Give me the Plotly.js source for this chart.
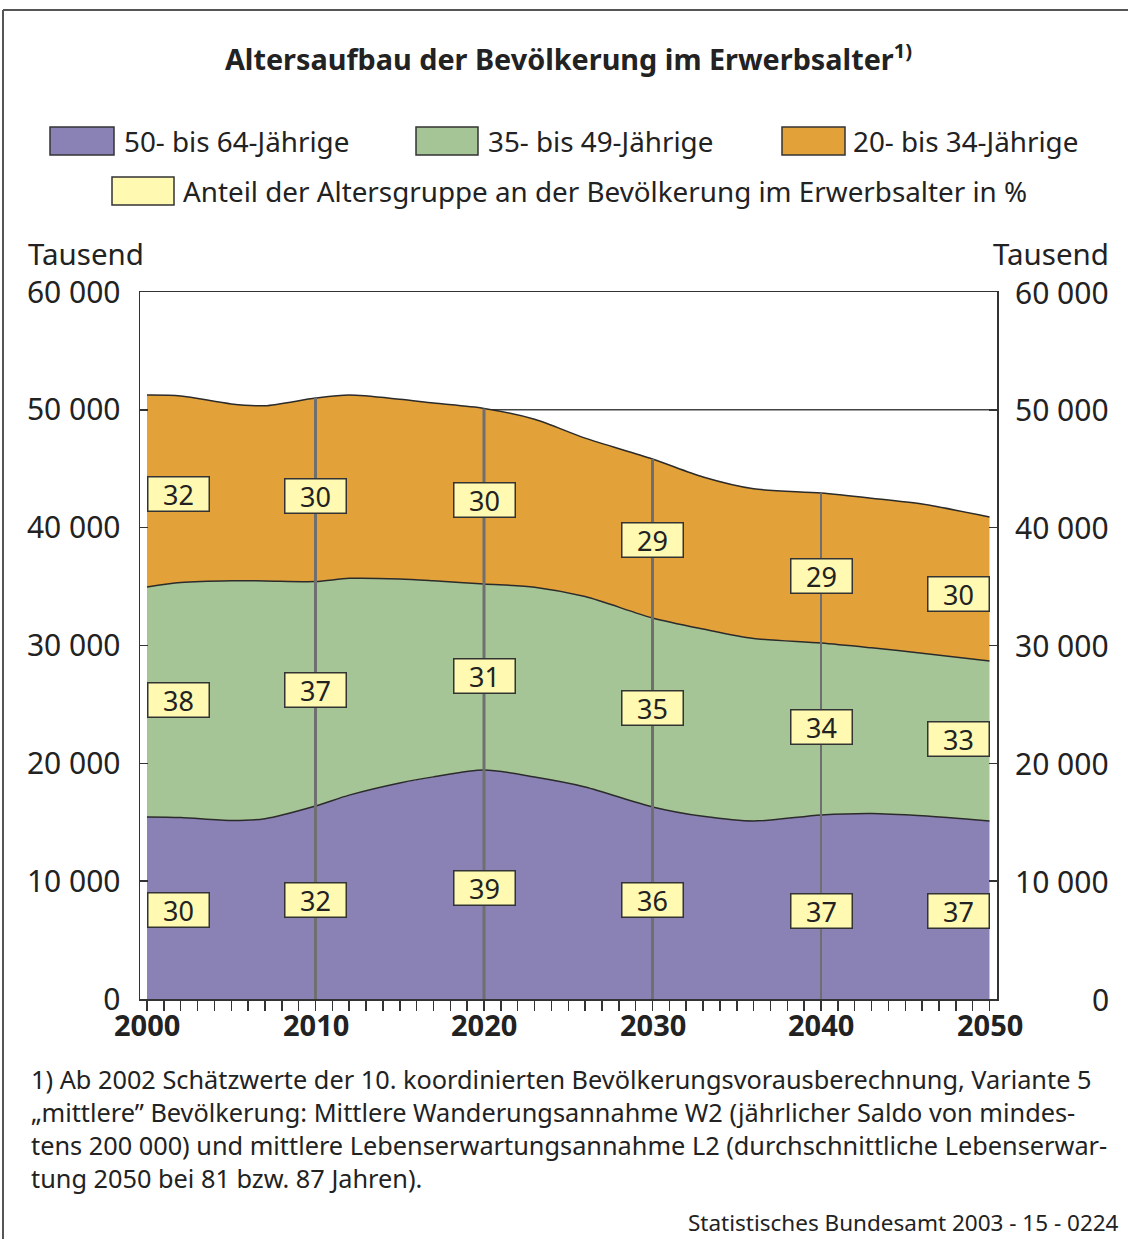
<!DOCTYPE html>
<html>
<head>
<meta charset="utf-8">
<script src="https://cdn.plot.ly/plotly-3.0.1.min.js"></script>
<style>
  html, body { margin: 0; padding: 0; background: #ffffff; }
  #chart { width: 1128px; height: 1239px; }
</style>
</head>
<body>
<div id="chart"></div>
<script>
// ---------------- DATA ----------------
const years = [2000, 2002, 2005, 2007, 2010, 2012, 2015, 2017, 2020, 2023, 2026, 2030, 2033, 2036, 2040, 2043, 2046, 2050];
// Thousands of persons per age group
const age50to64 = [15450, 15400, 15150, 15300, 16380, 17300, 18330, 18850, 19440, 18840, 18000, 16300, 15500, 15100, 15620, 15750, 15550, 15110];
const age35to49 = [19520, 19950, 20350, 20180, 19050, 18400, 17320, 16650, 15780, 16110, 16150, 16040, 15900, 15500, 14590, 14050, 13800, 13580];
const age20to34 = [16280, 15830, 15000, 14870, 15570, 15560, 15250, 15070, 14900, 14250, 13450, 13490, 12900, 12700, 12730, 12700, 12650, 12220];

// Share of the age group in the working-age population (%)
const labelYears = [2000, 2010, 2020, 2030, 2040, 2050];
const pct50to64 = [30, 32, 39, 36, 37, 37];
const pct35to49 = [38, 37, 31, 35, 34, 33];
const pct20to34 = [32, 30, 30, 29, 29, 30];

const seriesNames = ['50- bis 64-Jährige', '35- bis 49-Jährige', '20- bis 34-Jährige'];
const shareLegend = 'Anteil der Altersgruppe an der Bevölkerung im Erwerbsalter in %';
const yTickVals = [0, 10000, 20000, 30000, 40000, 50000, 60000];
const yTickText = ['0', '10 000', '20 000', '30 000', '40 000', '50 000', '60 000'];
const xTickVals = [2000, 2010, 2020, 2030, 2040, 2050];
const gridYears = [2010, 2020, 2030, 2040];

// ---------------- STYLE / LAYOUT CONFIG ----------------
const FONT = 'Noto Sans, DejaVu Sans, sans-serif';
const colPurple = '#8a82b5', colGreen = '#a5c596', colOrange = '#e3a13a', colYellow = '#fff9b1';
const W = 1128, H = 1239;
const M = {l: 140, r: 131, t: 292, b: 240};
const pw = W - M.l - M.r, ph = H - M.t - M.b;
const px2x = px => (px - M.l) / pw;
const py2y = py => (H - M.b - py) / ph;

// label vertical placement (data units) per row
const labelPosOrange = [42860, 42690, 42350, 38950, 35900, 34370];
const labelPosGreen  = [25380, 26230, 27410, 24700, 23080, 22060];
const labelPosPurple = [7550, 8400, 9420, 8400, 7470, 7470];

// ---------------- TRACES ----------------
const common = {type: 'scatter', mode: 'lines', stackgroup: 'one', hoverinfo: 'skip',
  line: {color: '#2b2b2b', width: 1.5, shape: 'spline', smoothing: 0.8}, showlegend: false};
const traces = [
  Object.assign({}, common, {x: years, y: age50to64, name: seriesNames[0], fillcolor: colPurple}),
  Object.assign({}, common, {x: years, y: age35to49, name: seriesNames[1], fillcolor: colGreen}),
  Object.assign({}, common, {x: years, y: age20to34, name: seriesNames[2], fillcolor: colOrange})
];
// vertical decade lines up to the total
gridYears.forEach(yr => {
  const i = years.indexOf(yr);
  const tot = age50to64[i] + age35to49[i] + age20to34[i];
  traces.push({type: 'scatter', mode: 'lines', x: [yr, yr], y: [0, tot], hoverinfo: 'skip', showlegend: false,
    line: {color: '#6f6f6f', width: yr === 2040 ? 2 : 3}});
});

// ---------------- ANNOTATIONS ----------------
const ann = [];
function box(i, pct, yv) {
  const yr = labelYears[i];
  let xanchor = 'center';
  if (i === 0) xanchor = 'left';
  if (i === labelYears.length - 1) xanchor = 'right';
  ann.push({x: yr, y: yv, xref: 'x', yref: 'y', text: String(pct), showarrow: false,
    xanchor: xanchor, yanchor: 'middle', font: {family: FONT, size: 27, color: '#222'},
    bgcolor: colYellow, bordercolor: '#333', borderwidth: 1.5, borderpad: 1, width: 58, height: 31});
}
labelYears.forEach((yr, i) => {
  box(i, pct20to34[i], labelPosOrange[i]);
  box(i, pct35to49[i], labelPosGreen[i]);
  box(i, pct50to64[i], labelPosPurple[i]);
});

// right tick labels (right aligned)
yTickVals.forEach((v, i) => {
  ann.push({x: px2x(1111), y: v, xref: 'paper', yref: 'y', text: yTickText[i], showarrow: false,
    xanchor: 'right', yanchor: 'middle', font: {family: FONT, size: 30, color: '#222'}});
});
// x tick labels
xTickVals.forEach(v => {
  ann.push({x: v, y: py2y(1004), xref: 'x', yref: 'paper', text: String(v), showarrow: false, borderpad: 0,
    xanchor: 'center', yanchor: 'top', font: {family: FONT, size: 29, color: '#222', weight: 'bold'}});
});
// Tausend
ann.push({x: px2x(26), y: py2y(253), xref: 'paper', yref: 'paper', text: 'Tausend', showarrow: false,
  xanchor: 'left', yanchor: 'middle', font: {family: FONT, size: 29.5, color: '#222'}});
ann.push({x: px2x(1111), y: py2y(253), xref: 'paper', yref: 'paper', text: 'Tausend', showarrow: false,
  xanchor: 'right', yanchor: 'middle', font: {family: FONT, size: 29.5, color: '#222'}});

// legend texts
const legTxt = [
  {t: seriesNames[0], x: 122, y: 141},
  {t: seriesNames[1], x: 486, y: 141},
  {t: seriesNames[2], x: 851, y: 141},
  {t: shareLegend, x: 181, y: 191}
];
legTxt.forEach(l => ann.push({x: px2x(l.x), y: py2y(l.y), xref: 'paper', yref: 'paper', text: l.t,
  showarrow: false, xanchor: 'left', yanchor: 'middle', font: {family: FONT, size: 27.8, color: '#222'}}));

// footnote lines
const foot = [
  '1) Ab 2002 Schätzwerte der 10. koordinierten Bevölkerungsvorausberechnung, Variante 5',
  '„mittlere” Bevölkerung: Mittlere Wanderungsannahme W2 (jährlicher Saldo von mindes-',
  'tens 200 000) und mittlere Lebenserwartungsannahme L2 (durchschnittliche Lebenserwar-',
  'tung 2050 bei 81 bzw. 87 Jahren).'
];
foot.forEach((t, i) => ann.push({x: px2x(29), y: py2y(1079 + i * 33), xref: 'paper', yref: 'paper', text: t,
  showarrow: false, xanchor: 'left', yanchor: 'middle', font: {family: FONT, size: 25.3, color: '#222'}}));
ann.push({x: px2x(1120), y: py2y(1238.5), xref: 'paper', yref: 'paper', text: 'Statistisches Bundesamt 2003 - 15 - 0224',
  showarrow: false, xanchor: 'right', yanchor: 'bottom', borderpad: 0, font: {family: FONT, size: 22.5, color: '#222'}});

// ---------------- SHAPES ----------------
const shapes = [];
// 50 000 reference line behind areas
shapes.push({type: 'line', xref: 'paper', yref: 'y', x0: 0, x1: 1, y0: 50000, y1: 50000, layer: 'below',
  line: {color: '#444', width: 1.5}});
// outer frame (top and left)
shapes.push({type: 'line', xref: 'paper', yref: 'paper', x0: px2x(3), x1: px2x(1128), y0: py2y(10), y1: py2y(10),
  line: {color: '#555', width: 2}});
shapes.push({type: 'line', xref: 'paper', yref: 'paper', x0: px2x(3), x1: px2x(3), y0: py2y(10), y1: py2y(1239),
  line: {color: '#555', width: 2}});
// legend swatches
const sw = [
  {c: colPurple, x0: 50, x1: 114, y0: 127, y1: 155},
  {c: colGreen, x0: 416, x1: 478, y0: 127, y1: 155},
  {c: colOrange, x0: 782, x1: 845, y0: 127, y1: 155},
  {c: colYellow, x0: 112, x1: 174, y0: 177, y1: 205}
];
sw.forEach(s => shapes.push({type: 'rect', xref: 'paper', yref: 'paper',
  x0: px2x(s.x0), x1: px2x(s.x1), y0: py2y(s.y0), y1: py2y(s.y1),
  fillcolor: s.c, line: {color: '#333', width: 1.5}}));

// ---------------- LAYOUT ----------------
const layout = {
  width: W, height: H,
  margin: M,
  paper_bgcolor: '#ffffff', plot_bgcolor: '#ffffff',
  showlegend: false,
  hovermode: false,
  title: {text: 'Altersaufbau der Bevölkerung im Erwerbsalter<sup>1)</sup>',
    font: {family: FONT, size: 28.8, color: '#222', weight: 'bold'},
    x: 0.5, xref: 'paper', y: 1 - 60 / H, yref: 'container', yanchor: 'middle'},
  xaxis: {
    range: [2000 - 7 / 16.84, 2050 + 7.5 / 16.84], fixedrange: true,
    tickvals: xTickVals, showticklabels: false,
    ticks: 'outside', ticklen: 10, tickwidth: 1.5, tickcolor: '#333',
    minor: {dtick: 1, tick0: 2000, ticks: 'outside', ticklen: 10, tickwidth: 1.5, tickcolor: '#333', showgrid: false},
    showline: true, linecolor: '#333', linewidth: 1.5, mirror: true,
    showgrid: false, zeroline: false
  },
  yaxis: {
    range: [0, 60000], fixedrange: true,
    tickvals: yTickVals, ticktext: yTickText,
    ticks: 'inside', ticklen: 8, tickwidth: 1.5, tickcolor: '#333',
    showline: true, linecolor: '#333', linewidth: 1.5, mirror: 'ticks',
    showgrid: false, zeroline: false,
    ticklabelstandoff: 12,
    tickfont: {family: FONT, size: 30, color: '#222'}
  },
  annotations: ann,
  shapes: shapes
};

Plotly.newPlot('chart', traces, layout, {staticPlot: true, displayModeBar: false});
</script>
</body>
</html>
